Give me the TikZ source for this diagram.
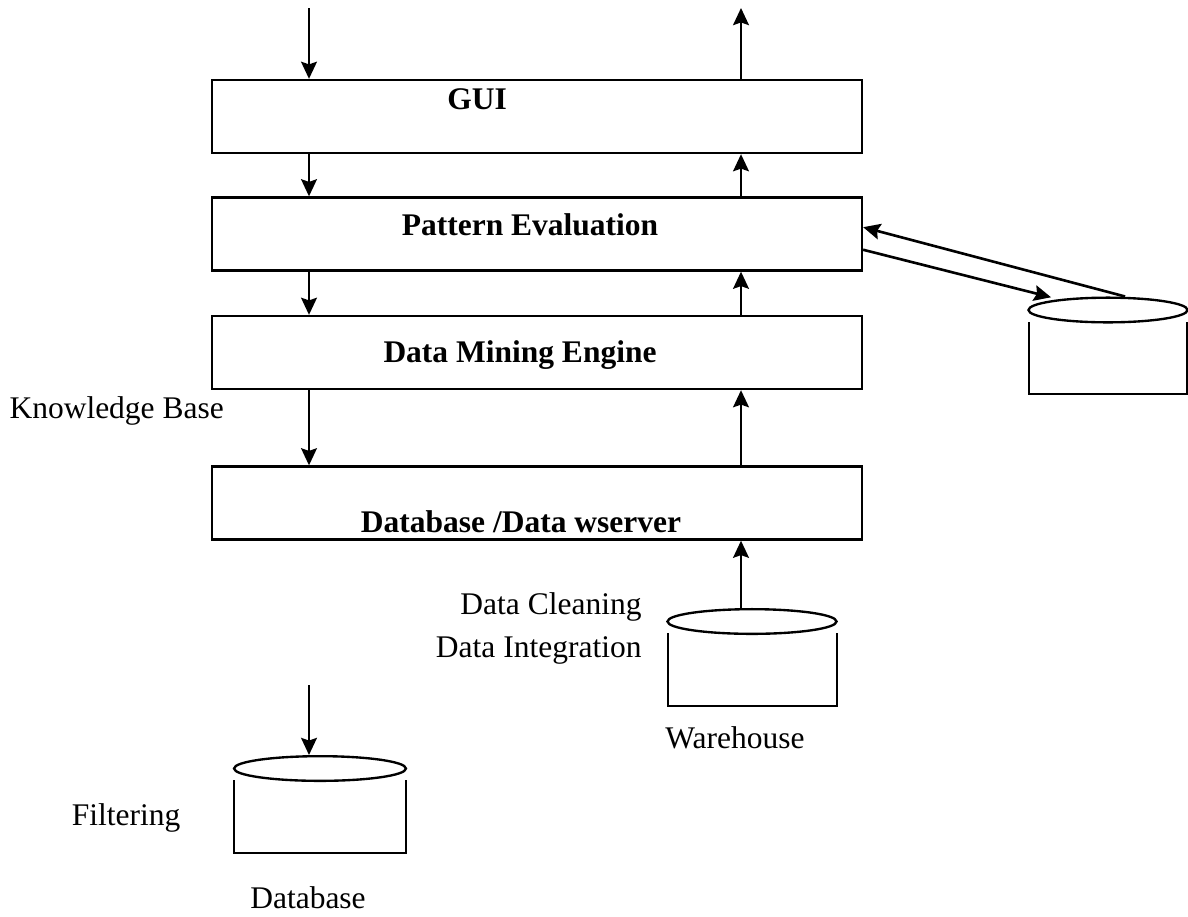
\documentclass[tikz,border=0pt]{standalone}
\usepackage{fontspec}
\setmainfont{Liberation Serif}
\usetikzlibrary{shapes.geometric, arrows.meta}
\tikzstyle{layer} = [rectangle, draw=black, line width=0.9pt, minimum width=247.6pt, minimum height=27.8pt, inner sep=0pt]
\tikzstyle{disk} = [ellipse, draw=black, line width=0.9pt, minimum height=9.4pt, inner sep=0pt]
\tikzstyle{title} = [font=\fontsize{12}{14}\selectfont\bfseries, inner sep=0pt]
\tikzstyle{lbl} = [font=\fontsize{12}{14}\selectfont, inner sep=0pt]
\tikzstyle{arrow} = [line width=1pt, -{Stealth[length=6.5pt,width=6pt,inset=1pt]}]
\tikzstyle{wall} = [line width=0.9pt]

\begin{document}
\begin{tikzpicture}[x=0.381pt, y=-0.381pt]
\useasboundingbox (0,0) rectangle (1188,916);
% layers
\node (gui) [layer] at (537,116.5) {};
\node (pe) [layer] at (537,234) {};
\node (dme) [layer] at (537,352.5) {};
\node (dbs) [layer] at (537,503) {};
\node (guitxt) [title] at (477,99) {GUI};
\node (petxt) [title] at (530,225) {Pattern Evaluation};
\node (dmetxt) [title] at (520,355) {Data Mining Engine};
\node (dbstxt) [title] at (521,522) {Database /Data wserver};
% stores
\node (kbtop) [disk, minimum width=60.6pt] at (1108,310) {};
\draw[wall] (1029,322) -- (1029,394) -- (1187,394) -- (1187,322);
\node (whtop) [disk, minimum width=64.4pt] at (752,621.5) {};
\draw[wall] (668,633) -- (668,706) -- (837,706) -- (837,633);
\node (dbtop) [disk, minimum width=65.5pt] at (320,768.5) {};
\draw[wall] (234,780) -- (234,853) -- (406,853) -- (406,780);
% labels
\node (kblbl) [lbl, anchor=west] at (9,411) {Knowledge Base};
\node (cleanlbl) [lbl, anchor=east] at (642,607) {Data Cleaning};
\node (integlbl) [lbl, anchor=east] at (642,650) {Data Integration};
\node (whlbl) [lbl] at (735,738) {Warehouse};
\node (filtlbl) [lbl] at (126,818) {Filtering};
\node (dblbl) [lbl] at (308,898) {Database};
% arrows
\coordinate (lx) at (309,0);
\coordinate (rx) at (741,0);
\coordinate (in) at (309,8);
\coordinate (out) at (741,8);
\coordinate (feed) at (309,685);
\draw[arrow] (in) -- (gui.north -| lx);
\draw[arrow] (gui.north -| rx) -- (out);
\draw[arrow] (gui.south -| lx) -- (pe.north -| lx);
\draw[arrow] (pe.north -| rx) -- (gui.south -| rx);
\draw[arrow] (pe.south -| lx) -- (dme.north -| lx);
\draw[arrow] (dme.north -| rx) -- (pe.south -| rx);
\draw[arrow] (dme.south -| lx) -- (dbs.north -| lx);
\draw[arrow] (dbs.north -| rx) -- (dme.south -| rx);
\draw[arrow] (whtop.north -| rx) -- (dbs.south -| rx);
\draw[arrow] (feed) -- (dbtop.north -| lx);
\draw[arrow] ([xshift=6.5pt]kbtop.north) -- ([yshift=2.6pt]pe.east);
\draw[arrow] ([yshift=-6pt]pe.east) -- ([xshift=-21.7pt,yshift=-0.3pt]kbtop.north);
\end{tikzpicture}
\end{document}
